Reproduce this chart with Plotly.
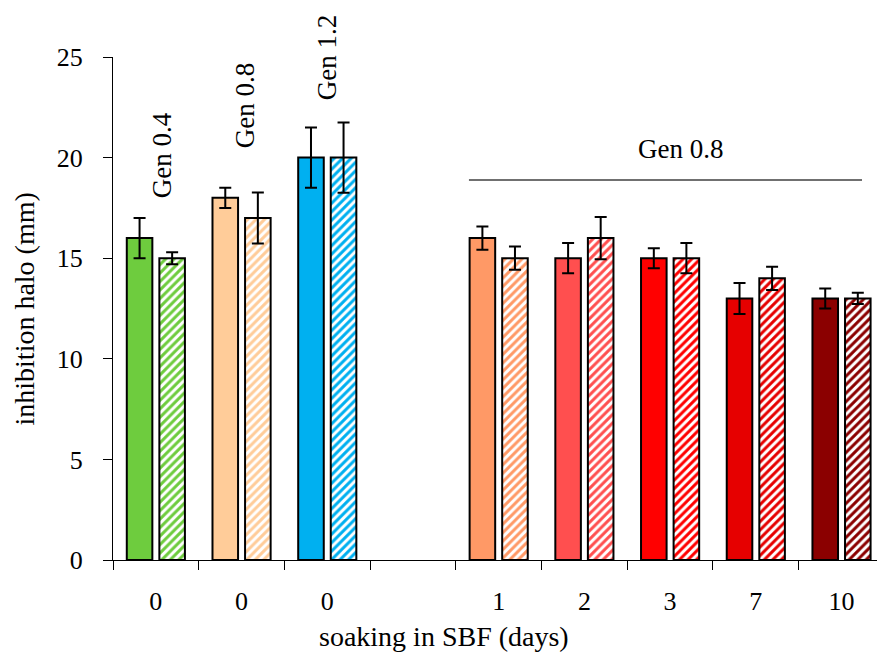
import plotly.graph_objects as go

# ---- data ----
categories = ["Gen 0.4", "Gen 0.8", "Gen 1.2", "gap", "day 1", "day 2", "day 3", "day 7", "day 10"]
tick_labels = ["0", "0", "0", "", "1", "2", "3", "7", "10"]
bar_categories = ["Gen 0.4", "Gen 0.8", "Gen 1.2", "day 1", "day 2", "day 3", "day 7", "day 10"]
solid_values = [16, 18, 20, 16, 15, 15, 13, 13]
solid_errors = [1.0, 0.5, 1.5, 0.58, 0.75, 0.5, 0.77, 0.5]
hatched_values = [15, 17, 20, 15, 16, 15, 14, 13]
hatched_errors = [0.3, 1.27, 1.75, 0.58, 1.05, 0.75, 0.58, 0.28]
bar_colors = ["#6ECC3E", "#FFCC99", "#00B0F0", "#FF9966", "#FF4F4F", "#FF0000", "#E60000", "#8B0000"]

FONT = "Liberation Serif"

fig = go.Figure()
fig.add_trace(go.Bar(
    x=bar_categories, y=solid_values,
    marker=dict(color=bar_colors, line=dict(color="black", width=2)),
    error_y=dict(type="data", array=solid_errors, color="black", thickness=2, width=6),
    showlegend=False,
))
fig.add_trace(go.Bar(
    x=bar_categories, y=hatched_values,
    marker=dict(color="white", line=dict(color="black", width=2),
                pattern=dict(shape="/", fgcolor=bar_colors, bgcolor="white",
                             size=6, solidity=0.5, fillmode="replace")),
    error_y=dict(type="data", array=hatched_errors, color="black", thickness=2, width=6),
    showlegend=False,
))

# Gen 0.8 bracket line over soaked samples
fig.add_shape(type="line", xref="x", yref="y", x0=3.653, x1=8.239, y0=18.89, y1=18.89,
              line=dict(color="#404040", width=1.5))

annos = [
    dict(text="Gen 0.4", x=0.068, y=20.1, textangle=-90),
    dict(text="Gen 0.8", x=1.04, y=22.6, textangle=-90),
    dict(text="Gen 1.2", x=1.993, y=24.97, textangle=-90),
    dict(text="Gen 0.8", x=6.126, y=20.45, textangle=0),
]
for a in annos:
    fig.add_annotation(xref="x", yref="y", showarrow=False, xanchor="center", yanchor="middle",
                       font=dict(family=FONT, size=27, color="black"), **a)

# axis titles
fig.add_annotation(text="inhibition halo (mm)", xref="paper", yref="paper", x=-0.1152, y=0.5,
                   textangle=-90, showarrow=False, xanchor="center", yanchor="middle",
                   font=dict(family=FONT, size=28, color="black"))
fig.add_annotation(text="soaking in SBF (days)", xref="paper", yref="paper", x=0.4332, y=-0.153,
                   showarrow=False, xanchor="center", yanchor="middle",
                   font=dict(family=FONT, size=28, color="black"))

fig.update_layout(
    width=877, height=653,
    margin=dict(l=113, r=0, t=57, b=93),
    paper_bgcolor="white", plot_bgcolor="white",
    barmode="group", bargap=0.24, bargroupgap=0.215,
    font=dict(family=FONT, size=26, color="black"),
    xaxis=dict(
        type="category", categoryorder="array", categoryarray=categories,
        tickmode="array", tickvals=categories, ticktext=tick_labels,
        tickson="boundaries", ticks="outside", ticklen=9, tickwidth=1.3, tickcolor="black",
        showline=True, linecolor="black", linewidth=1.3, showgrid=False, zeroline=False,
        range=[-0.5, 8.414], ticklabelstandoff=18,
        tickfont=dict(family=FONT, size=26, color="black"),
    ),
    yaxis=dict(
        range=[0, 25], tickvals=[0, 5, 10, 15, 20, 25],
        ticks="outside", ticklen=9, tickwidth=1.3, tickcolor="black",
        showline=True, linecolor="black", linewidth=1.3, showgrid=False, zeroline=False,
        ticklabelstandoff=15,
        tickfont=dict(family=FONT, size=26, color="black"),
    ),
)

fig.write_html("out.html")
